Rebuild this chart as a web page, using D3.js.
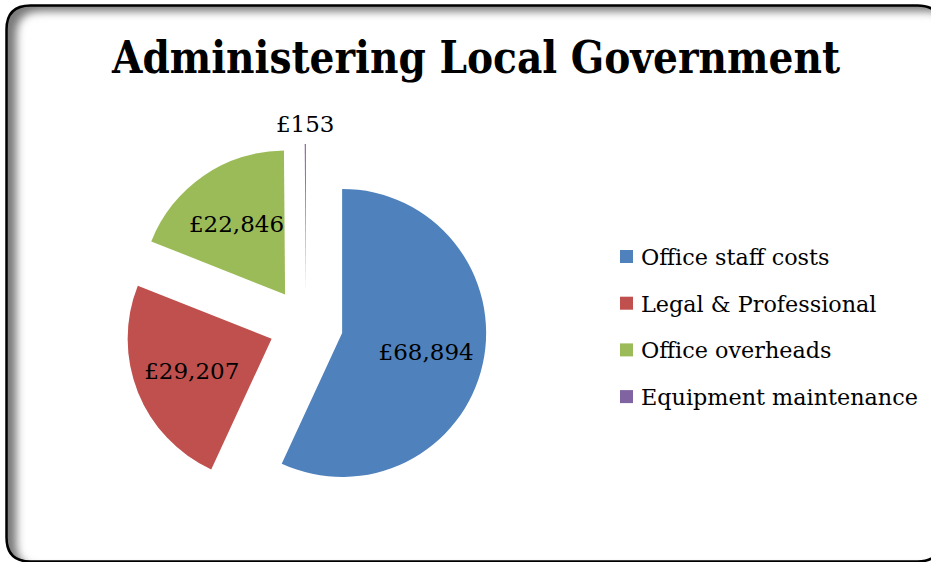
<!DOCTYPE html>
<html>
<head>
<meta charset="utf-8">
<script src="https://cdn.jsdelivr.net/npm/d3@7"></script>
<style>
  html, body { margin: 0; padding: 0; background: #fff; }
  svg { display: block; }
</style>
</head>
<body>
<svg id="chart" width="931" height="562"></svg>
<script>
// Spending categories and amounts (GBP)
const categories = ["Office staff costs", "Legal & Professional", "Office overheads", "Equipment maintenance"];
const values = [68894, 29207, 22846, 153];
const colors = ["#4F81BD", "#C0504D", "#9BBB59", "#8064A2"];
const title = "Administering Local Government";

const W = 931, H = 562;
const svg = d3.select("#chart");
const defs = svg.append("defs");

// ---- Rounded frame with an inner shadow along the top and left edges ----
const frame = { x: 6.5, y: 5.5, w: 935, h: 556, r: 24 };
function roundedRect(x, y, w, h, r) {
  return `M${x + r},${y} H${x + w - r} Q${x + w},${y} ${x + w},${y + r} V${y + h - r} Q${x + w},${y + h} ${x + w - r},${y + h} H${x + r} Q${x},${y + h} ${x},${y + h - r} V${y + r} Q${x},${y} ${x + r},${y} Z`;
}
const framePath = roundedRect(frame.x, frame.y, frame.w, frame.h, frame.r);

defs.append("clipPath").attr("id", "frameClip")
  .append("path").attr("d", framePath);
defs.append("filter").attr("id", "shadowBlur")
  .attr("x", "-10%").attr("y", "-10%").attr("width", "120%").attr("height", "120%")
  .append("feGaussianBlur").attr("stdDeviation", 4);

svg.append("path").attr("d", framePath).attr("fill", "#fff");
svg.append("g").attr("clip-path", "url(#frameClip)")
  .append("path")
  .attr("d", `M-200,-200 H${W + 200} V${H + 200} H-200 Z ` +
             roundedRect(frame.x + 10, frame.y + 6, frame.w, frame.h, frame.r))
  .attr("fill-rule", "evenodd")
  .attr("fill", "#7a7a7a")
  .attr("filter", "url(#shadowBlur)");
svg.append("path").attr("d", framePath)
  .attr("fill", "none").attr("stroke", "#000").attr("stroke-width", 2.5);

// ---- Title ----
const titleText = svg.append("text")
  .attr("x", 476).attr("y", 73)
  .attr("text-anchor", "middle")
  .style("font-family", "'DejaVu Serif Condensed', 'DejaVu Serif', serif")
  .style("font-stretch", "condensed")
  .style("font-weight", "bold")
  .style("font-size", "44px")
  .attr("fill", "#000")
  .text(title);
const tw = titleText.node().getComputedTextLength();
if (Math.abs(tw - 728) > 4) {
  titleText.attr("textLength", 728).attr("lengthAdjust", "spacingAndGlyphs");
}

// ---- Exploded pie ----
const cx = 306, cy = 325, radius = 144, explode = 37;
const pie = d3.pie().sort(null).value(d => d);
const arcs = pie(values);
const arc = d3.arc().innerRadius(0).outerRadius(radius);
const labelArc = d3.arc().innerRadius(86).outerRadius(86);
const fmt = v => "£" + d3.format(",")(v);

const pieG = svg.append("g").attr("transform", `translate(${cx},${cy})`);
const slice = pieG.selectAll("g.slice").data(arcs).join("g")
  .attr("class", "slice")
  .attr("transform", d => {
    const mid = (d.startAngle + d.endAngle) / 2;
    return `translate(${explode * Math.sin(mid)},${-explode * Math.cos(mid)})`;
  });

slice.append("path")
  .attr("d", arc)
  .attr("fill", (d, i) => colors[i]);

// Value labels: inside the slice when it is wide enough, otherwise just outside
slice.append("text")
  .attr("transform", d => {
    const span = d.endAngle - d.startAngle;
    if (span > 0.3) return `translate(${labelArc.centroid(d)})`;
    const mid = (d.startAngle + d.endAngle) / 2;
    const rr = radius + 20;
    return `translate(${rr * Math.sin(mid)},${-rr * Math.cos(mid)})`;
  })
  .attr("text-anchor", "middle")
  .attr("dy", "0.36em")
  .style("font-family", "'DejaVu Serif', serif")
  .style("font-size", "23px")
  .attr("fill", "#000")
  .text(d => fmt(d.data));

// ---- Legend ----
const legend = svg.append("g").attr("transform", "translate(620,265)");
const item = legend.selectAll("g").data(categories).join("g")
  .attr("transform", (d, i) => `translate(0,${i * 46.7})`);
item.append("rect")
  .attr("x", 0).attr("y", -15).attr("width", 13).attr("height", 13)
  .attr("fill", (d, i) => colors[i]);
item.append("text")
  .attr("x", 21).attr("y", 0)
  .style("font-family", "'DejaVu Serif', serif")
  .style("font-size", "22.3px")
  .attr("fill", "#000")
  .text(d => d);
</script>
</body>
</html>
